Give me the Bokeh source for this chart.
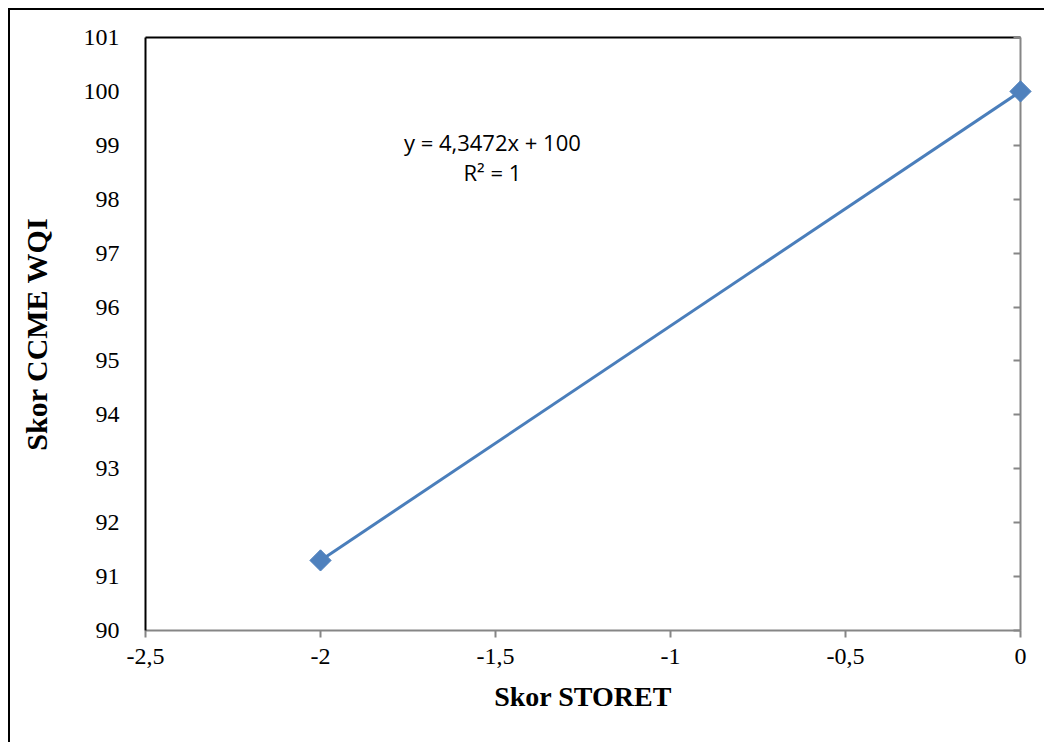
from bokeh.plotting import figure
from bokeh.models import LinearAxis, FixedTicker, Range1d, CustomJSTickFormatter, Label
from bokeh.embed import file_html
from bokeh.resources import INLINE
import math

# data
skor_storet = [-2.0, 0.0]
skor_ccme = [91.3, 100.0]
x_ticks = [-2.5, -2.0, -1.5, -1.0, -0.5, 0.0]
x_tick_labels = ["-2,5", "-2", "-1,5", "-1", "-0,5", "0"]
y_ticks = [90, 91, 92, 93, 94, 95, 96, 97, 98, 99, 100, 101]
equation = "y = 4,3472x + 100"
r_squared = "R² = 1"

p = figure(width=1036, height=734, output_backend="svg", toolbar_location=None,
           x_range=Range1d(-2.5, 0), y_range=Range1d(90, 101),
           x_axis_location=None, y_axis_location=None,
           min_border_left=135, min_border_right=26, min_border_top=27, min_border_bottom=114)
p.margin = (8, 0, 0, 8)
p.styles = {"border-left": "2px solid black", "border-top": "2px solid black"}
p.outline_line_color = None
p.xgrid.visible = False
p.ygrid.visible = False
p.background_fill_color = "white"
p.border_fill_color = "white"

serif = "Liberation Serif"

# bottom x axis
xa = LinearAxis(ticker=FixedTicker(ticks=x_ticks))
xa.major_label_overrides = {t: l for t, l in zip(x_ticks, x_tick_labels)}
xa.axis_line_color = "#868686"
xa.axis_line_width = 2
xa.major_tick_line_color = "#868686"
xa.major_tick_line_width = 2
xa.major_tick_in = 0
xa.major_tick_out = 7
xa.minor_tick_line_color = None
xa.major_label_text_font = serif
xa.major_label_text_font_size = "24px"
xa.major_label_text_color = "black"
xa.major_label_standoff = 11
xa.axis_label = "Skor STORET"
xa.axis_label_text_font = serif
xa.axis_label_text_font_style = "bold"
xa.axis_label_text_font_size = "28px"
xa.axis_label_text_color = "black"
xa.axis_label_standoff = 14
p.add_layout(xa, "below")

# left y axis (labels only, black frame line)
ya = LinearAxis(ticker=FixedTicker(ticks=y_ticks))
ya.axis_line_color = "black"
ya.axis_line_width = 2
ya.major_tick_line_color = None
ya.minor_tick_line_color = None
ya.major_tick_in = 0
ya.major_tick_out = 0
ya.major_label_text_font = serif
ya.major_label_text_font_size = "24px"
ya.major_label_text_color = "black"
ya.major_label_standoff = 26
ya.axis_label = "Skor CCME WQI"
ya.axis_label_text_font = serif
ya.axis_label_text_font_style = "bold"
ya.axis_label_text_font_size = "30px"
ya.axis_label_text_color = "black"
ya.axis_label_standoff = 28
p.add_layout(ya, "left")

# right y axis (gray line with inward ticks, no labels)
yr = LinearAxis(ticker=FixedTicker(ticks=y_ticks))
yr.formatter = CustomJSTickFormatter(code="return ''")
yr.axis_line_color = "#868686"
yr.axis_line_width = 2
yr.major_tick_line_color = "#868686"
yr.major_tick_line_width = 2
yr.major_tick_in = 7
yr.major_tick_out = 0
yr.minor_tick_line_color = None
yr.major_label_standoff = 0
p.add_layout(yr, "right")

# top border line
xt = LinearAxis(ticker=FixedTicker(ticks=[]))
xt.axis_line_color = "black"
xt.axis_line_width = 2
xt.major_tick_line_color = None
xt.minor_tick_line_color = None
xt.major_tick_in = 0
xt.major_tick_out = 0
p.add_layout(xt, "above")

# trend line and points
p.line(skor_storet, skor_ccme, line_color="#4A7EBB", line_width=3)
p.scatter(skor_storet, skor_ccme, marker="square", size=15, angle=math.pi / 4,
          fill_color="#4F81BD", line_color="#4F81BD", level="overlay")

sans = "Open Sans"
p.add_layout(Label(x=-1.509, y=99.07, text=equation, text_font=sans, text_font_size="22px",
                   text_align="center", text_baseline="middle", text_color="black"))
p.add_layout(Label(x=-1.509, y=98.5, text=r_squared, text_font=sans, text_font_size="22px",
                   text_align="center", text_baseline="middle", text_color="black"))

open("out.html", "w").write(file_html(p, INLINE))
